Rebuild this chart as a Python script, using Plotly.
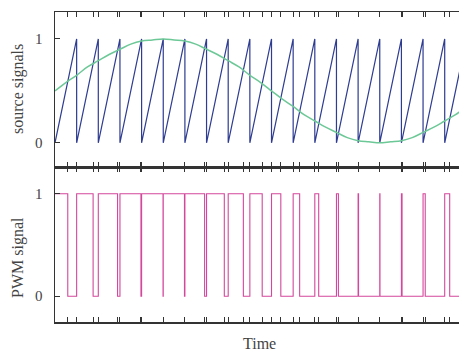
import plotly.graph_objects as go
from plotly.subplots import make_subplots

# ---- data (time in carrier periods) ----
sine_t = [i * 0.5 for i in range(39)]
sine_v = [0.50, 0.58, 0.65, 0.73, 0.79, 0.85, 0.90, 0.95, 0.98, 0.99,
          1.00, 0.99, 0.98, 0.95, 0.90, 0.85, 0.79, 0.73, 0.65, 0.58,
          0.50, 0.42, 0.35, 0.27, 0.21, 0.15, 0.10, 0.05, 0.02, 0.01,
          0.00, 0.01, 0.02, 0.05, 0.10, 0.15, 0.21, 0.27, 0.35]

saw_reset_t = list(range(1, 20))   # times where the sawtooth peaks and resets
saw_low, saw_high = 0.0, 1.0

pwm_fall_t = [0.59, 1.76, 2.89, 3.97, 4.99, 5.98, 6.91, 7.82, 8.70, 9.57,
              10.43, 11.30, 12.18, 13.09, 14.02, 15.01, 16.03, 17.10, 18.23]
pwm_rise_t = list(range(1, 20))

x_range = [0, 18.66]

# ---- build traces ----
saw_x, saw_y = [0], [saw_low]
for r in saw_reset_t:
    saw_x += [r, r]
    saw_y += [saw_high, saw_low]

pwm_x, pwm_y = [0], [1]
for f, r in zip(pwm_fall_t, pwm_rise_t):
    pwm_x += [f, f, r, r]
    pwm_y += [1, 0, 0, 1]

tick_t = sorted(pwm_fall_t + pwm_rise_t)

fig = make_subplots(rows=2, cols=1, shared_xaxes=True, vertical_spacing=0)

fig.add_trace(go.Scatter(x=saw_x, y=saw_y, mode="lines",
                         line=dict(color="#2e3c92", width=1.2),
                         showlegend=False, hoverinfo="skip"), row=1, col=1)
fig.add_trace(go.Scatter(x=sine_t, y=sine_v, mode="lines",
                         line=dict(color="#6cc896", width=1.5, shape="spline"),
                         showlegend=False, hoverinfo="skip"), row=1, col=1)
fig.add_trace(go.Scatter(x=pwm_x, y=pwm_y, mode="lines",
                         line=dict(color="#d4479c", width=1.1),
                         showlegend=False, hoverinfo="skip"), row=2, col=1)

axis_color = "#333333"
font_family = "Liberation Serif"

xcommon = dict(range=x_range, showline=True, linecolor=axis_color, linewidth=1.5,
               mirror="ticks", ticks="inside", ticklen=5, tickwidth=1,
               tickcolor=axis_color, tickvals=tick_t, showticklabels=False,
               showgrid=False, zeroline=False, automargin=False)
fig.update_xaxes(**xcommon)

ycommon = dict(showline=True, linecolor=axis_color, linewidth=1.5, mirror=False,
               ticks="inside", ticklen=5, tickwidth=1, tickcolor=axis_color,
               tickvals=[0, 1], ticktext=["0", "1"], showgrid=False, zeroline=False,
               tickfont=dict(family=font_family, size=15, color="#444444"),
               ticklabelstandoff=8, automargin=False)
fig.update_yaxes(**ycommon)
fig.update_yaxes(range=[-0.233, 1.259], domain=[0.5, 1.0], row=1, col=1)
fig.update_yaxes(range=[-0.252, 1.262], domain=[0.0, 0.5], row=2, col=1)

W, H = 459, 352
ml, mr, mt, mb = 55, 0, 12, 30
pw, ph = W - ml - mr, H - mt - mb

def px_to_paper(xp, yp):
    return (xp - ml) / pw, (H - mb - yp) / ph

ann = []
for text, (xp, yp), ang in [("source signals", (18, 89), -90),
                            ("PWM signal", (18, 258), -90),
                            ("Time", (259, 343), 0)]:
    ax, ay = px_to_paper(xp, yp)
    ann.append(dict(text=text, x=ax, y=ay, xref="paper", yref="paper",
                    xanchor="center", yanchor="middle", showarrow=False,
                    textangle=ang,
                    font=dict(family=font_family, size=16, color="#444444")))

fig.update_layout(width=W, height=H,
                  margin=dict(l=ml, r=mr, t=mt, b=mb, autoexpand=False),
                  paper_bgcolor="white", plot_bgcolor="white",
                  annotations=ann, showlegend=False)

fig.write_html("out.html",
               config={"displayModeBar": False, "staticPlot": True},
               post_script="document.body.style.margin='0';"
                           "document.body.style.overflow='hidden';")
